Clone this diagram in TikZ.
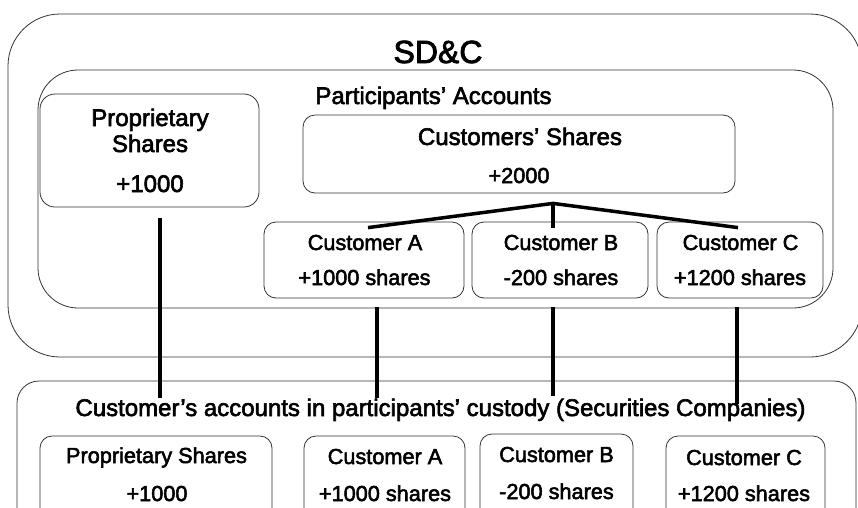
\documentclass[tikz,border=0pt]{standalone}
\usepackage{fontspec}
\setmainfont[FakeBold=2.5]{Liberation Sans}
\usetikzlibrary{calc}

\begin{document}
\begin{tikzpicture}[x=1pt,y=-1pt,
    box/.style={draw=black!80,line width=0.8pt,rounded corners=#1,inner sep=0pt},
    box/.default=12pt,
    hd/.style={anchor=base,inner sep=0pt,font=\fontsize{32}{38}\selectfont},
    big/.style={anchor=base,inner sep=0pt,font=\fontsize{24}{29}\selectfont},
    small/.style={anchor=base,inner sep=0pt,font=\fontsize{21.7}{26}\selectfont},
    link/.style={line width=4pt}]
    \useasboundingbox (0,0) rectangle (858,507);
    \clip (0,0) rectangle (858,507);

    \node[box=52pt,minimum width=854pt,minimum height=343pt] (sdc) at (435,185.5) {};
    \node[box=40pt,minimum width=795pt,minimum height=238pt] (part) at (435.5,189) {};
    \node[box=15pt,minimum width=219pt,minimum height=113pt] (propA) at (149.5,150.5) {};
    \node[box,minimum width=432pt,minimum height=78pt] (custS) at (519,154) {};
    \node[box,minimum width=200pt,minimum height=76pt] (custA) at (364,260) {};
    \node[box,minimum width=176pt,minimum height=76pt] (custB) at (560,260) {};
    \node[box,minimum width=166pt,minimum height=76pt] (custC) at (740,260) {};

    \node[box=22pt,minimum width=839pt,minimum height=160pt] (custody) at (436.5,461) {};
    \node[box,minimum width=232pt,minimum height=90pt] (propB) at (156,481) {};
    \node[box,minimum width=161pt,minimum height=90pt] (secA) at (384.5,481) {};
    \node[box,minimum width=153pt,minimum height=92pt] (secB) at (556.5,480) {};
    \node[box,minimum width=159pt,minimum height=90pt] (secC) at (745.5,481) {};

    \node[hd] (sdcT) at (438,63) {SD\&C};
    \node[big] (partT) at (433.5,104) {Participants’ Accounts};
    \node[big] (propA1) at (150,126) {Proprietary};
    \node[big] (propA2) at (150,152) {Shares};
    \node[big] (propA3) at (150,192) {+1000};
    \node[big] (custS1) at (520,145) {Customers’ Shares};
    \node[small] (custS2) at (519,183) {+2000};
    \node[small] (custA1) at (365,250) {Customer A};
    \node[small] (custA2) at (364.5,285) {+1000 shares};
    \node[small] (custB1) at (561,250) {Customer B};
    \node[small] (custB2) at (561,285) {-200 shares};
    \node[small] (custC1) at (740.5,250) {Customer C};
    \node[small] (custC2) at (740,285) {+1200 shares};

    \node[big] (custodyT) at (440.5,416) {Customer’s accounts in participants’ custody (Securities Companies)};
    \node[small] (propB1) at (156.5,463) {Proprietary Shares};
    \node[small] (propB2) at (157,501) {+1000};
    \node[small] (secA1) at (385,464) {Customer A};
    \node[small] (secA2) at (385,501) {+1000 shares};
    \node[small] (secB1) at (556.5,462) {Customer B};
    \node[small] (secB2) at (556.5,499) {-200 shares};
    \node[small] (secC1) at (744,465) {Customer C};
    \node[small] (secC2) at (744,501) {+1200 shares};

    \coordinate (apex) at ($(custS.south)+(34,10)$);
    \coordinate (aTop) at ($(custA.north)+(4,6)$);
    \coordinate (cTop) at ($(custC.north)+(-2,6)$);
    \draw[link,line width=3.5pt] (aTop) -- (apex) -- (cTop);
    \draw[link,line width=3.5pt] (apex) -- (apex |- aTop);

    \coordinate (propEnd) at ($(propA.south)+(10.5,11)$);
    \coordinate (aEnd) at ($(custA.south)+(13,9)$);
    \coordinate (bEnd) at ($(custB.south)+(-7,9)$);
    \coordinate (cEnd) at ($(custC.south)+(-3,9)$);
    \draw[link] (propEnd) -- (propEnd |- custodyT.north);
    \draw[link] (aEnd) -- (aEnd |- custodyT.north);
    \draw[link] (bEnd) -- ($(bEnd |- custodyT.north)+(0,-2)$);
    \draw[link] (cEnd) -- ($(cEnd |- custodyT.north)+(0,6)$);
\end{tikzpicture}
\end{document}
